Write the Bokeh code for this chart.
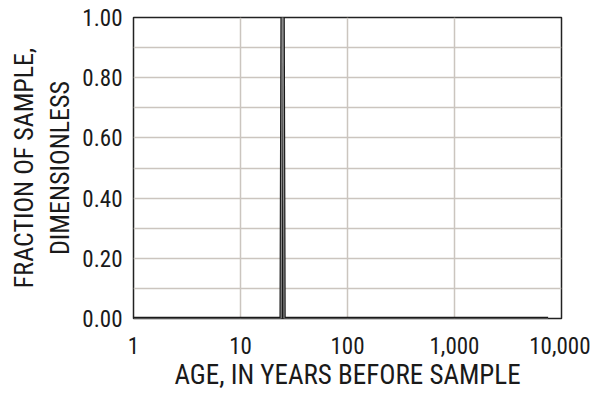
from bokeh.plotting import figure
from bokeh.models import FixedTicker, NumeralTickFormatter, PrintfTickFormatter, Range1d
from bokeh.embed import file_html
from bokeh.resources import INLINE

# Age distribution of the sample (years before sample) and fraction of sample
ages = [1, 24.0, 24.5, 25.0, 25.5, 7500]
fraction = [0.0, 0.0, 1.0, 1.0, 0.0, 0.0]

x_ticks = [1, 10, 100, 1000, 10000]
y_major = [0.0, 0.2, 0.4, 0.6, 0.8, 1.0]
y_minor = [0.1, 0.3, 0.5, 0.7, 0.9]

FONT = "'Roboto Condensed', 'DejaVu Sans Condensed', 'Liberation Sans Narrow', 'Roboto', sans-serif"
TEXT = "#1a1a1a"
GRID = "#cbc5bf"

p = figure(width=590, height=398, x_axis_type="log",
           x_range=Range1d(1, 10000), y_range=Range1d(0, 1),
           output_backend="svg", toolbar_location=None,
           min_border_left=133, min_border_right=29,
           min_border_top=17, min_border_bottom=80)

p.background_fill_color = "white"
p.border_fill_color = "white"
p.outline_line_color = "#222222"
p.outline_line_width = 1.5

# Cased line: dark outer stroke with lighter core
p.line(ages, fraction, line_color="#1a1a1a", line_width=3.5)
p.line(ages, fraction, line_color="#8a8a8a", line_width=1.2)

p.xaxis.ticker = FixedTicker(ticks=x_ticks)
p.xaxis.formatter = NumeralTickFormatter(format="0,0")
p.yaxis.ticker = FixedTicker(ticks=y_major, minor_ticks=y_minor)
p.yaxis.formatter = PrintfTickFormatter(format="%.2f")

p.xaxis.axis_label = "AGE, IN YEARS BEFORE SAMPLE"
p.yaxis.axis_label = "FRACTION OF SAMPLE,\nDIMENSIONLESS"

for ax in (p.xaxis, p.yaxis):
    ax.axis_line_color = None
    ax.major_tick_line_color = None
    ax.minor_tick_line_color = None
    ax.major_label_text_font = FONT
    ax.major_label_text_font_size = "23px"
    ax.major_label_text_color = TEXT
    ax.axis_label_text_font = FONT
    ax.axis_label_text_font_size = "27px"
    ax.axis_label_text_font_style = "normal"
    ax.axis_label_text_color = TEXT

p.yaxis.axis_label_text_font_size = "26px"
p.xaxis.major_label_standoff = 12
p.xaxis.axis_label_standoff = 2
p.yaxis.major_label_standoff = 5
p.yaxis.axis_label_standoff = 4

p.xgrid.grid_line_color = GRID
p.xgrid.grid_line_width = 1.5
p.ygrid.grid_line_color = GRID
p.ygrid.grid_line_width = 1.5
p.ygrid.minor_grid_line_color = GRID
p.ygrid.minor_grid_line_width = 1.5

open("out.html", "w").write(file_html(p, INLINE))
